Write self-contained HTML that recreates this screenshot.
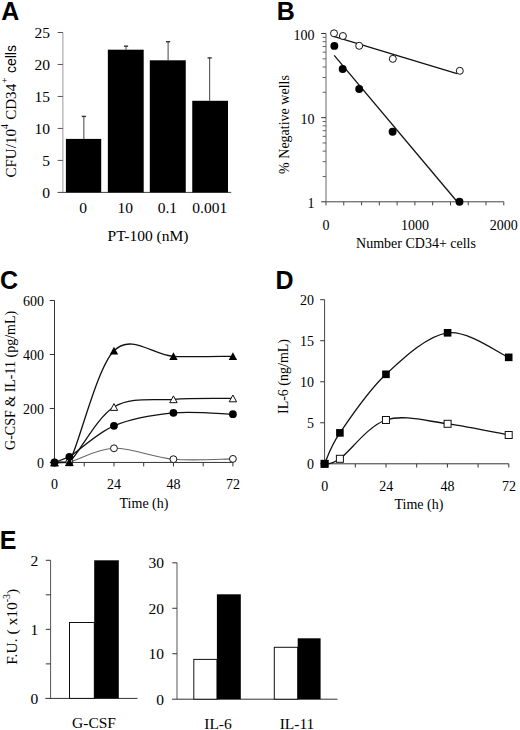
<!DOCTYPE html>
<html><head><meta charset="utf-8"><title>Figure</title>
<style>
html,body{margin:0;padding:0;background:#fff;}
body{width:520px;height:730px;overflow:hidden;font-family:"Liberation Serif",serif;}
svg{display:block;}
text{fill:#000;}
</style></head><body>
<svg width="520" height="730" viewBox="0 0 520 730">
<rect x="0" y="0" width="520" height="730" fill="#fff"/>
<text x="1.20" y="19.60" text-anchor="start" font-size="25" font-family="Liberation Sans" font-weight="bold">A</text>
<text x="276.70" y="19.60" text-anchor="start" font-size="25" font-family="Liberation Sans" font-weight="bold">B</text>
<text x="-0.10" y="288.80" text-anchor="start" font-size="25" font-family="Liberation Sans" font-weight="bold">C</text>
<text x="275.50" y="288.60" text-anchor="start" font-size="25" font-family="Liberation Sans" font-weight="bold">D</text>
<text x="-0.30" y="548.50" text-anchor="start" font-size="25" font-family="Liberation Sans" font-weight="bold">E</text>
<line x1="62.90" y1="32.50" x2="62.90" y2="192.40" stroke="#999" stroke-width="1.00"/>
<line x1="57.60" y1="192.40" x2="231.20" y2="192.40" stroke="#444" stroke-width="1.00"/>
<line x1="57.70" y1="160.42" x2="62.90" y2="160.42" stroke="#555" stroke-width="1.00"/>
<line x1="57.70" y1="128.44" x2="62.90" y2="128.44" stroke="#555" stroke-width="1.00"/>
<line x1="57.70" y1="96.46" x2="62.90" y2="96.46" stroke="#555" stroke-width="1.00"/>
<line x1="57.70" y1="64.48" x2="62.90" y2="64.48" stroke="#555" stroke-width="1.00"/>
<line x1="57.70" y1="32.50" x2="62.90" y2="32.50" stroke="#555" stroke-width="1.00"/>
<text x="49.90" y="197.70" text-anchor="end" font-size="15.5" font-family="Liberation Serif" font-weight="normal">0</text>
<text x="49.90" y="165.72" text-anchor="end" font-size="15.5" font-family="Liberation Serif" font-weight="normal">5</text>
<text x="49.90" y="133.74" text-anchor="end" font-size="15.5" font-family="Liberation Serif" font-weight="normal">10</text>
<text x="49.90" y="101.76" text-anchor="end" font-size="15.5" font-family="Liberation Serif" font-weight="normal">15</text>
<text x="49.90" y="69.78" text-anchor="end" font-size="15.5" font-family="Liberation Serif" font-weight="normal">20</text>
<text x="49.90" y="37.80" text-anchor="end" font-size="15.5" font-family="Liberation Serif" font-weight="normal">25</text>
<line x1="83.85" y1="116.40" x2="83.85" y2="138.90" stroke="#444" stroke-width="1.00"/>
<line x1="81.75" y1="116.40" x2="85.95" y2="116.40" stroke="#333" stroke-width="1.40"/>
<rect x="65.90" y="138.90" width="35.30" height="53.50" fill="#000" stroke="none" stroke-width="1.00"/>
<line x1="126.00" y1="46.20" x2="126.00" y2="49.70" stroke="#444" stroke-width="1.00"/>
<line x1="123.90" y1="46.20" x2="128.10" y2="46.20" stroke="#333" stroke-width="1.40"/>
<rect x="107.85" y="49.70" width="35.85" height="142.70" fill="#000" stroke="none" stroke-width="1.00"/>
<line x1="168.10" y1="41.70" x2="168.10" y2="60.30" stroke="#444" stroke-width="1.00"/>
<line x1="166.00" y1="41.70" x2="170.20" y2="41.70" stroke="#333" stroke-width="1.40"/>
<rect x="149.80" y="60.30" width="35.95" height="132.10" fill="#000" stroke="none" stroke-width="1.00"/>
<line x1="209.65" y1="57.90" x2="209.65" y2="100.80" stroke="#444" stroke-width="1.00"/>
<line x1="207.55" y1="57.90" x2="211.75" y2="57.90" stroke="#333" stroke-width="1.40"/>
<rect x="192.25" y="100.80" width="35.75" height="91.60" fill="#000" stroke="none" stroke-width="1.00"/>
<text x="83.15" y="213.00" text-anchor="middle" font-size="15.5" font-family="Liberation Serif" font-weight="normal">0</text>
<text x="125.37" y="213.00" text-anchor="middle" font-size="15.5" font-family="Liberation Serif" font-weight="normal">10</text>
<text x="167.38" y="213.00" text-anchor="middle" font-size="15.5" font-family="Liberation Serif" font-weight="normal">0.1</text>
<text x="209.72" y="213.00" text-anchor="middle" font-size="15.5" font-family="Liberation Serif" font-weight="normal">0.001</text>
<text x="148.00" y="240.50" text-anchor="middle" font-size="15.5" font-family="Liberation Serif" font-weight="normal">PT-100 (nM)</text>
<text transform="translate(15.7,177.6) rotate(-90)" text-anchor="start" font-size="15.1" font-family="Liberation Serif">CFU/10<tspan font-size="10" dy="-7.3">4</tspan><tspan dy="7.3" dx="0.3"> CD34</tspan><tspan font-size="10" dy="-7.3" dx="0.6">+</tspan><tspan dy="7.3" dx="0.6" font-family="Liberation Sans" font-size="14"> cells</tspan></text>
<line x1="326.00" y1="33.50" x2="326.00" y2="201.80" stroke="#666" stroke-width="1.00"/>
<line x1="326.00" y1="201.80" x2="503.80" y2="201.80" stroke="#444" stroke-width="1.00"/>
<line x1="321.20" y1="117.65" x2="326.00" y2="117.65" stroke="#333" stroke-width="1.00"/>
<line x1="321.20" y1="33.50" x2="326.00" y2="33.50" stroke="#333" stroke-width="1.00"/>
<line x1="322.60" y1="176.47" x2="326.00" y2="176.47" stroke="#555" stroke-width="0.90"/>
<line x1="322.60" y1="161.65" x2="326.00" y2="161.65" stroke="#555" stroke-width="0.90"/>
<line x1="322.60" y1="151.14" x2="326.00" y2="151.14" stroke="#555" stroke-width="0.90"/>
<line x1="322.60" y1="142.98" x2="326.00" y2="142.98" stroke="#555" stroke-width="0.90"/>
<line x1="322.60" y1="136.32" x2="326.00" y2="136.32" stroke="#555" stroke-width="0.90"/>
<line x1="322.60" y1="130.68" x2="326.00" y2="130.68" stroke="#555" stroke-width="0.90"/>
<line x1="322.60" y1="125.80" x2="326.00" y2="125.80" stroke="#555" stroke-width="0.90"/>
<line x1="322.60" y1="121.50" x2="326.00" y2="121.50" stroke="#555" stroke-width="0.90"/>
<line x1="322.60" y1="92.32" x2="326.00" y2="92.32" stroke="#555" stroke-width="0.90"/>
<line x1="322.60" y1="77.50" x2="326.00" y2="77.50" stroke="#555" stroke-width="0.90"/>
<line x1="322.60" y1="66.99" x2="326.00" y2="66.99" stroke="#555" stroke-width="0.90"/>
<line x1="322.60" y1="58.83" x2="326.00" y2="58.83" stroke="#555" stroke-width="0.90"/>
<line x1="322.60" y1="52.17" x2="326.00" y2="52.17" stroke="#555" stroke-width="0.90"/>
<line x1="322.60" y1="46.53" x2="326.00" y2="46.53" stroke="#555" stroke-width="0.90"/>
<line x1="322.60" y1="41.65" x2="326.00" y2="41.65" stroke="#555" stroke-width="0.90"/>
<line x1="322.60" y1="37.35" x2="326.00" y2="37.35" stroke="#555" stroke-width="0.90"/>
<line x1="321.20" y1="201.80" x2="326.00" y2="201.80" stroke="#333" stroke-width="1.00"/>
<line x1="326.00" y1="201.80" x2="326.00" y2="205.40" stroke="#444" stroke-width="1.00"/>
<line x1="343.78" y1="201.80" x2="343.78" y2="205.40" stroke="#444" stroke-width="1.00"/>
<line x1="361.56" y1="201.80" x2="361.56" y2="205.40" stroke="#444" stroke-width="1.00"/>
<line x1="379.34" y1="201.80" x2="379.34" y2="205.40" stroke="#444" stroke-width="1.00"/>
<line x1="397.12" y1="201.80" x2="397.12" y2="205.40" stroke="#444" stroke-width="1.00"/>
<line x1="414.90" y1="201.80" x2="414.90" y2="205.40" stroke="#444" stroke-width="1.00"/>
<line x1="432.68" y1="201.80" x2="432.68" y2="205.40" stroke="#444" stroke-width="1.00"/>
<line x1="450.46" y1="201.80" x2="450.46" y2="205.40" stroke="#444" stroke-width="1.00"/>
<line x1="468.24" y1="201.80" x2="468.24" y2="205.40" stroke="#444" stroke-width="1.00"/>
<line x1="486.02" y1="201.80" x2="486.02" y2="205.40" stroke="#444" stroke-width="1.00"/>
<line x1="503.80" y1="201.80" x2="503.80" y2="205.40" stroke="#444" stroke-width="1.00"/>
<text x="314.60" y="39.80" text-anchor="end" font-size="14" font-family="Liberation Serif" font-weight="normal">100</text>
<text x="314.60" y="124.15" text-anchor="end" font-size="14" font-family="Liberation Serif" font-weight="normal">10</text>
<text x="314.60" y="208.40" text-anchor="end" font-size="14" font-family="Liberation Serif" font-weight="normal">1</text>
<text x="326.00" y="229.50" text-anchor="middle" font-size="14" font-family="Liberation Serif" font-weight="normal">0</text>
<text x="414.90" y="229.50" text-anchor="middle" font-size="14" font-family="Liberation Serif" font-weight="normal">1000</text>
<text x="503.80" y="229.50" text-anchor="middle" font-size="14" font-family="Liberation Serif" font-weight="normal">2000</text>
<text x="416.00" y="247.60" text-anchor="middle" font-size="14" font-family="Liberation Serif" font-weight="normal">Number CD34+ cells</text>
<text transform="translate(288.90,124.50) rotate(-90)" text-anchor="middle" font-size="14" font-family="Liberation Serif">% Negative wells</text>
<line x1="333.70" y1="36.40" x2="457.00" y2="73.70" stroke="#111" stroke-width="1.30"/>
<line x1="334.20" y1="55.40" x2="457.00" y2="201.50" stroke="#111" stroke-width="1.30"/>
<circle cx="334.00" cy="33.30" r="3.5" fill="#fff" stroke="#111" stroke-width="1"/>
<circle cx="342.90" cy="36.00" r="3.5" fill="#fff" stroke="#111" stroke-width="1"/>
<circle cx="359.20" cy="45.80" r="3.5" fill="#fff" stroke="#111" stroke-width="1"/>
<circle cx="392.80" cy="58.85" r="3.5" fill="#fff" stroke="#111" stroke-width="1"/>
<circle cx="459.80" cy="70.80" r="3.5" fill="#fff" stroke="#111" stroke-width="1"/>
<circle cx="334.35" cy="45.90" r="3.95" fill="#000"/>
<circle cx="342.70" cy="69.00" r="3.95" fill="#000"/>
<circle cx="359.20" cy="89.00" r="3.95" fill="#000"/>
<circle cx="392.60" cy="131.80" r="3.95" fill="#000"/>
<circle cx="459.50" cy="201.70" r="3.95" fill="#000"/>
<line x1="54.50" y1="300.50" x2="54.50" y2="462.45" stroke="#333" stroke-width="1.00"/>
<line x1="54.50" y1="462.45" x2="232.90" y2="462.45" stroke="#333" stroke-width="1.00"/>
<line x1="49.70" y1="408.47" x2="54.50" y2="408.47" stroke="#333" stroke-width="1.00"/>
<line x1="49.70" y1="354.48" x2="54.50" y2="354.48" stroke="#333" stroke-width="1.00"/>
<line x1="49.70" y1="300.50" x2="54.50" y2="300.50" stroke="#333" stroke-width="1.00"/>
<line x1="49.70" y1="462.45" x2="54.50" y2="462.45" stroke="#333" stroke-width="1.00"/>
<text x="43.90" y="468.20" text-anchor="end" font-size="14" font-family="Liberation Serif" font-weight="normal">0</text>
<text x="43.90" y="414.22" text-anchor="end" font-size="14" font-family="Liberation Serif" font-weight="normal">200</text>
<text x="43.90" y="360.23" text-anchor="end" font-size="14" font-family="Liberation Serif" font-weight="normal">400</text>
<text x="43.90" y="306.25" text-anchor="end" font-size="14" font-family="Liberation Serif" font-weight="normal">600</text>
<line x1="84.23" y1="462.45" x2="84.23" y2="466.40" stroke="#333" stroke-width="1.00"/>
<line x1="113.97" y1="462.45" x2="113.97" y2="466.40" stroke="#333" stroke-width="1.00"/>
<line x1="143.70" y1="462.45" x2="143.70" y2="466.40" stroke="#333" stroke-width="1.00"/>
<line x1="173.43" y1="462.45" x2="173.43" y2="466.40" stroke="#333" stroke-width="1.00"/>
<line x1="203.17" y1="462.45" x2="203.17" y2="466.40" stroke="#333" stroke-width="1.00"/>
<line x1="232.90" y1="462.45" x2="232.90" y2="466.40" stroke="#333" stroke-width="1.00"/>
<text x="54.60" y="489.30" text-anchor="middle" font-size="14" font-family="Liberation Serif" font-weight="normal">0</text>
<text x="114.07" y="489.30" text-anchor="middle" font-size="14" font-family="Liberation Serif" font-weight="normal">24</text>
<text x="173.53" y="489.30" text-anchor="middle" font-size="14" font-family="Liberation Serif" font-weight="normal">48</text>
<text x="233.00" y="489.30" text-anchor="middle" font-size="14" font-family="Liberation Serif" font-weight="normal">72</text>
<text x="144.00" y="507.80" text-anchor="middle" font-size="14" font-family="Liberation Serif" font-weight="normal">Time (h)</text>
<text transform="translate(15.30,380.40) rotate(-90)" text-anchor="middle" font-size="14" font-family="Liberation Serif">G-CSF &amp; IL-11 (pg/mL)</text>
<path d="M54.50,462.50 L69.37,462.00 C79.28,459.63 96.62,448.77 113.97,448.30 C131.31,447.83 153.61,457.43 173.43,459.20 C193.26,460.97 222.99,458.95 232.90,458.90" fill="none" stroke="#666" stroke-width="1.1"/>
<path d="M54.50,462.50 L69.37,456.80 C79.28,450.68 96.62,433.12 113.97,425.80 C131.31,418.48 153.61,414.78 173.43,412.85 C193.26,410.92 222.99,413.98 232.90,414.20" fill="none" stroke="#111" stroke-width="1.3"/>
<path d="M54.50,462.50 L69.37,462.30 C79.28,453.05 96.62,417.50 113.97,407.00 C131.31,396.50 153.61,400.73 173.43,399.30 C193.26,397.87 222.99,398.55 232.90,398.40" fill="none" stroke="#111" stroke-width="1.3"/>
<path d="M54.50,462.50 L69.37,462.30 C79.28,443.68 96.62,368.47 113.97,350.80 C131.31,333.13 153.61,355.38 173.43,356.30 C193.26,357.22 222.99,356.30 232.90,356.30" fill="none" stroke="#111" stroke-width="1.3"/>
<circle cx="54.50" cy="462.50" r="3.45" fill="#fff" stroke="#111" stroke-width="1"/>
<circle cx="69.37" cy="462.00" r="3.45" fill="#fff" stroke="#111" stroke-width="1"/>
<circle cx="113.97" cy="448.30" r="3.45" fill="#fff" stroke="#111" stroke-width="1"/>
<circle cx="173.43" cy="459.20" r="3.45" fill="#fff" stroke="#111" stroke-width="1"/>
<circle cx="232.90" cy="458.90" r="3.45" fill="#fff" stroke="#111" stroke-width="1"/>
<circle cx="54.50" cy="462.50" r="3.9" fill="#000"/>
<circle cx="69.37" cy="456.80" r="3.9" fill="#000"/>
<circle cx="113.97" cy="425.80" r="3.9" fill="#000"/>
<circle cx="173.43" cy="412.85" r="3.9" fill="#000"/>
<circle cx="232.90" cy="414.20" r="3.9" fill="#000"/>
<path d="M54.50,459.10 L58.20,465.90 L50.80,465.90 Z" fill="#fff" stroke="#111" stroke-width="1"/>
<path d="M69.37,458.90 L73.07,465.70 L65.67,465.70 Z" fill="#fff" stroke="#111" stroke-width="1"/>
<path d="M113.97,403.60 L117.67,410.40 L110.27,410.40 Z" fill="#fff" stroke="#111" stroke-width="1"/>
<path d="M173.43,395.90 L177.13,402.70 L169.73,402.70 Z" fill="#fff" stroke="#111" stroke-width="1"/>
<path d="M232.90,395.00 L236.60,401.80 L229.20,401.80 Z" fill="#fff" stroke="#111" stroke-width="1"/>
<path d="M54.50,458.50 L58.70,466.30 L50.30,466.30 Z" fill="#000"/>
<path d="M69.37,458.30 L73.57,466.10 L65.17,466.10 Z" fill="#000"/>
<path d="M113.97,346.80 L118.17,354.60 L109.77,354.60 Z" fill="#000"/>
<path d="M173.43,352.30 L177.63,360.10 L169.23,360.10 Z" fill="#000"/>
<path d="M232.90,352.30 L237.10,360.10 L228.70,360.10 Z" fill="#000"/>
<line x1="324.60" y1="299.70" x2="324.60" y2="463.80" stroke="#444" stroke-width="1.00"/>
<line x1="324.60" y1="463.80" x2="508.80" y2="463.80" stroke="#333" stroke-width="1.00"/>
<line x1="320.20" y1="463.80" x2="324.60" y2="463.80" stroke="#333" stroke-width="1.00"/>
<text x="314.00" y="469.30" text-anchor="end" font-size="14" font-family="Liberation Serif" font-weight="normal">0</text>
<line x1="320.20" y1="422.77" x2="324.60" y2="422.77" stroke="#333" stroke-width="1.00"/>
<text x="314.00" y="428.27" text-anchor="end" font-size="14" font-family="Liberation Serif" font-weight="normal">5</text>
<line x1="320.20" y1="381.75" x2="324.60" y2="381.75" stroke="#333" stroke-width="1.00"/>
<text x="314.00" y="387.25" text-anchor="end" font-size="14" font-family="Liberation Serif" font-weight="normal">10</text>
<line x1="320.20" y1="340.73" x2="324.60" y2="340.73" stroke="#333" stroke-width="1.00"/>
<text x="314.00" y="346.23" text-anchor="end" font-size="14" font-family="Liberation Serif" font-weight="normal">15</text>
<line x1="320.20" y1="299.70" x2="324.60" y2="299.70" stroke="#333" stroke-width="1.00"/>
<text x="314.00" y="305.20" text-anchor="end" font-size="14" font-family="Liberation Serif" font-weight="normal">20</text>
<line x1="355.30" y1="463.80" x2="355.30" y2="467.50" stroke="#333" stroke-width="1.00"/>
<line x1="386.00" y1="463.80" x2="386.00" y2="467.50" stroke="#333" stroke-width="1.00"/>
<line x1="416.70" y1="463.80" x2="416.70" y2="467.50" stroke="#333" stroke-width="1.00"/>
<line x1="447.40" y1="463.80" x2="447.40" y2="467.50" stroke="#333" stroke-width="1.00"/>
<line x1="478.10" y1="463.80" x2="478.10" y2="467.50" stroke="#333" stroke-width="1.00"/>
<line x1="508.80" y1="463.80" x2="508.80" y2="467.50" stroke="#333" stroke-width="1.00"/>
<text x="324.80" y="491.00" text-anchor="middle" font-size="14" font-family="Liberation Serif" font-weight="normal">0</text>
<text x="386.20" y="491.00" text-anchor="middle" font-size="14" font-family="Liberation Serif" font-weight="normal">24</text>
<text x="447.60" y="491.00" text-anchor="middle" font-size="14" font-family="Liberation Serif" font-weight="normal">48</text>
<text x="509.00" y="491.00" text-anchor="middle" font-size="14" font-family="Liberation Serif" font-weight="normal">72</text>
<text x="418.90" y="508.60" text-anchor="middle" font-size="14" font-family="Liberation Serif" font-weight="normal">Time (h)</text>
<text transform="translate(288.40,376.50) rotate(-90)" text-anchor="middle" font-size="14" font-family="Liberation Serif">IL-6 (ng/mL)</text>
<path d="M324.60,463.80 C327.15,462.97 329.67,466.10 339.90,458.80 C350.12,451.50 368.00,425.83 385.95,420.00 C403.90,414.17 427.14,421.30 447.60,423.80 C468.06,426.30 498.52,433.13 508.70,435.00" fill="none" stroke="#111" stroke-width="1.3"/>
<path d="M324.60,463.80 C327.15,458.65 329.67,447.82 339.90,432.90 C350.12,417.98 368.00,390.98 385.95,374.30 C403.90,357.62 427.14,335.62 447.60,332.80 C468.06,329.98 498.52,353.26 508.70,357.35" fill="none" stroke="#111" stroke-width="1.3"/>
<rect x="321.10" y="460.30" width="7.00" height="7.00" fill="#fff" stroke="#111" stroke-width="1.00"/>
<rect x="336.40" y="455.30" width="7.00" height="7.00" fill="#fff" stroke="#111" stroke-width="1.00"/>
<rect x="382.45" y="416.50" width="7.00" height="7.00" fill="#fff" stroke="#111" stroke-width="1.00"/>
<rect x="444.10" y="420.30" width="7.00" height="7.00" fill="#fff" stroke="#111" stroke-width="1.00"/>
<rect x="505.20" y="431.50" width="7.00" height="7.00" fill="#fff" stroke="#111" stroke-width="1.00"/>
<rect x="320.80" y="460.00" width="7.60" height="7.60" fill="#000" stroke="none" stroke-width="1.00"/>
<rect x="336.10" y="429.10" width="7.60" height="7.60" fill="#000" stroke="none" stroke-width="1.00"/>
<rect x="382.15" y="370.50" width="7.60" height="7.60" fill="#000" stroke="none" stroke-width="1.00"/>
<rect x="443.80" y="329.00" width="7.60" height="7.60" fill="#000" stroke="none" stroke-width="1.00"/>
<rect x="504.90" y="353.55" width="7.60" height="7.60" fill="#000" stroke="none" stroke-width="1.00"/>
<line x1="50.60" y1="560.30" x2="50.60" y2="698.40" stroke="#555" stroke-width="1.00"/>
<line x1="45.30" y1="698.40" x2="137.50" y2="698.40" stroke="#333" stroke-width="1.00"/>
<line x1="45.80" y1="663.88" x2="50.60" y2="663.88" stroke="#333" stroke-width="1.00"/>
<line x1="45.80" y1="629.35" x2="50.60" y2="629.35" stroke="#333" stroke-width="1.00"/>
<line x1="45.80" y1="594.82" x2="50.60" y2="594.82" stroke="#333" stroke-width="1.00"/>
<line x1="45.80" y1="560.30" x2="50.60" y2="560.30" stroke="#333" stroke-width="1.00"/>
<text x="38.30" y="704.00" text-anchor="end" font-size="15.5" font-family="Liberation Serif" font-weight="normal">0</text>
<text x="38.30" y="634.95" text-anchor="end" font-size="15.5" font-family="Liberation Serif" font-weight="normal">1</text>
<text x="38.30" y="565.90" text-anchor="end" font-size="15.5" font-family="Liberation Serif" font-weight="normal">2</text>
<rect x="69.50" y="622.50" width="24.80" height="75.90" fill="#fff" stroke="#111" stroke-width="1.00"/>
<rect x="94.20" y="560.30" width="24.60" height="138.10" fill="#000" stroke="none" stroke-width="1.00"/>
<text x="94.00" y="727.50" text-anchor="middle" font-size="15.5" font-family="Liberation Serif" font-weight="normal">G-CSF</text>
<text transform="translate(16.8,626.8) rotate(-90)" text-anchor="middle" font-size="15.5" font-family="Liberation Serif">F.U. ( x10<tspan font-size="10" dy="-7">-3</tspan><tspan dy="7">)</tspan></text>
<line x1="177.00" y1="562.80" x2="177.00" y2="699.20" stroke="#555" stroke-width="1.00"/>
<line x1="172.00" y1="699.20" x2="337.50" y2="699.20" stroke="#333" stroke-width="1.00"/>
<line x1="172.30" y1="653.73" x2="177.00" y2="653.73" stroke="#333" stroke-width="1.00"/>
<line x1="172.30" y1="608.27" x2="177.00" y2="608.27" stroke="#333" stroke-width="1.00"/>
<line x1="172.30" y1="562.80" x2="177.00" y2="562.80" stroke="#333" stroke-width="1.00"/>
<text x="163.90" y="704.80" text-anchor="end" font-size="15.5" font-family="Liberation Serif" font-weight="normal">0</text>
<text x="163.90" y="659.33" text-anchor="end" font-size="15.5" font-family="Liberation Serif" font-weight="normal">10</text>
<text x="163.90" y="613.87" text-anchor="end" font-size="15.5" font-family="Liberation Serif" font-weight="normal">20</text>
<text x="163.90" y="568.40" text-anchor="end" font-size="15.5" font-family="Liberation Serif" font-weight="normal">30</text>
<rect x="193.80" y="659.40" width="23.20" height="39.80" fill="#fff" stroke="#111" stroke-width="1.00"/>
<rect x="216.90" y="594.30" width="23.90" height="104.90" fill="#000" stroke="none" stroke-width="1.00"/>
<rect x="274.30" y="647.30" width="23.40" height="51.90" fill="#fff" stroke="#111" stroke-width="1.00"/>
<rect x="297.70" y="638.30" width="22.90" height="60.90" fill="#000" stroke="none" stroke-width="1.00"/>
<text x="218.00" y="728.50" text-anchor="middle" font-size="15.5" font-family="Liberation Serif" font-weight="normal">IL-6</text>
<text x="297.00" y="728.50" text-anchor="middle" font-size="15.5" font-family="Liberation Serif" font-weight="normal">IL-11</text>
</svg>
</body></html>
